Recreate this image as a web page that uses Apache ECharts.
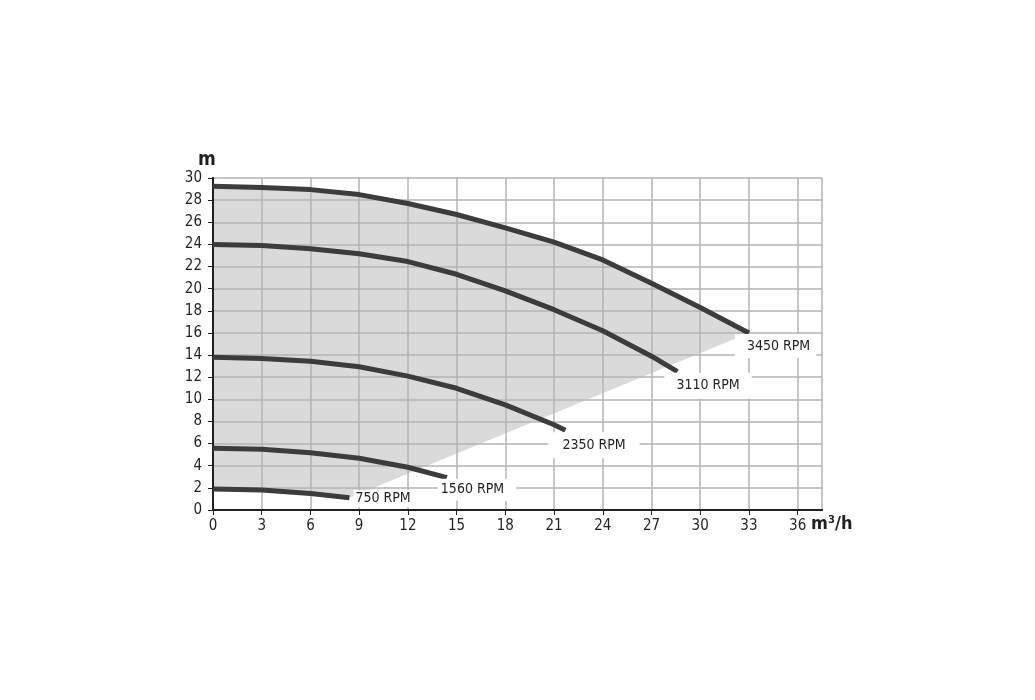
<!DOCTYPE html>
<html>
<head>
<meta charset="utf-8">
<script src="https://cdn.jsdelivr.net/npm/echarts@6/dist/echarts.min.js"></script>
<style>
html,body{margin:0;padding:0;background:#fff;}
#chart{width:1035px;height:700px;}
</style>
</head>
<body>
<div id="chart"></div>
<script>
// ---- data ----
const xTicks = [0,3,6,9,12,15,18,21,24,27,30,33,36];
const yTicks = [0,2,4,6,8,10,12,14,16,18,20,22,24,26,28,30];
const curveNames = ['3450 RPM','3110 RPM','2350 RPM','1560 RPM','750 RPM'];
const q3450 = [0,3,6,9,12,15,18,21,24,27,30,33];
const h3450 = [29.25,29.15,28.95,28.5,27.7,26.7,25.5,24.2,22.6,20.5,18.3,16.0];
const q3110 = [0,3,6,9,12,15,18,21,24,27,28.6];
const h3110 = [24.0,23.9,23.6,23.15,22.45,21.3,19.8,18.1,16.2,13.9,12.5];
const q2350 = [0,3,6,9,12,15,18,21,21.7];
const h2350 = [13.8,13.7,13.45,12.95,12.1,11.0,9.5,7.7,7.2];
const q1560 = [0,3,6,9,12,14.4];
const h1560 = [5.57,5.48,5.18,4.67,3.86,2.92];
const q750 = [0,3,6,8.4];
const h750 = [1.9,1.81,1.5,1.1];

const zip = (a,b) => a.map((v,i)=>[v,b[i]]);
const curves = [zip(q3450,h3450), zip(q3110,h3110), zip(q2350,h2350), zip(q1560,h1560), zip(q750,h750)];

// shaded operating region: top = 3450 curve, bottom = straight edge to 750 end, then 750 curve back
const regionPts = curves[0].concat(curves[4].slice().reverse());

const FONT = "'Liberation Sans Narrow','DejaVu Sans Condensed','Noto Sans',sans-serif";
const labelOffsets = [[-14,13],[-13,14],[-17,15],[-9,12],[4,1]];
const labelPads = [[4,6,6,12],[6,12,6,12],[6,14,6,14],[3,12,5,3],[3,6,0,2]];

const chart = echarts.init(document.getElementById('chart'));
const series = [{
  type:'custom',
  z:-1,
  silent:true,
  data:[[0,0]],
  renderItem:function(params, api){
    return {type:'polygon', shape:{points: regionPts.map(p=>api.coord(p))}, style:{fill:'#dadada'}};
  }
}];
curves.forEach((c,i)=>{
  series.push({
    type:'line',
    name:curveNames[i],
    data:c,
    smooth:false,
    symbol:'none',
    lineStyle:{color:'#3c3c3c', width:5, cap:'butt', join:'round'},
    endLabel:{
      show:true,
      formatter:curveNames[i],
      distance:0,
      offset:labelOffsets[i],
      backgroundColor:'#fff',
      padding:labelPads[i],
      color:'#231f20',
      fontFamily:FONT,
      fontSize:14
    },
    z:3
  });
});

const blackLine = {lineStyle:{color:'#231f20', width:2}};
chart.setOption({
  animation:false,
  backgroundColor:'#fff',
  grid:{left:213, right:213, top:178, bottom:190},
  xAxis:[{
    type:'value', min:0, max:37.5, interval:3, z:5,
    axisLine:blackLine,
    axisTick:{show:true, length:5, lineStyle:{color:'#231f20', width:1}},
    axisLabel:{color:'#231f20', fontFamily:FONT, fontSize:15, margin:9, showMaxLabel:false,
      formatter:v=> xTicks.indexOf(v)>=0 ? String(v) : ''},
    splitLine:{show:false}
  },{
    type:'value', position:'top', min:0, max:37.5, interval:3,
    axisLine:{show:true, lineStyle:{color:'#231f20', width:2}},
    axisTick:{show:false}, axisLabel:{show:false},
    splitLine:{show:true, lineStyle:{color:'#b3b3b3', width:1.5}}
  }],
  yAxis:[{
    type:'value', min:0, max:30, interval:2,
    axisLine:{show:true, lineStyle:{color:'#231f20', width:2}},
    axisTick:{show:true, length:5, lineStyle:{color:'#231f20', width:1}},
    axisLabel:{color:'#231f20', fontFamily:FONT, fontSize:15, margin:11,
      formatter:v=> yTicks.indexOf(v)>=0 ? String(v) : ''},
    splitLine:{show:true, lineStyle:{color:'#b3b3b3', width:1.5}}
  },{
    type:'value', position:'right', min:0, max:30, interval:2,
    axisLine:{show:true, lineStyle:{color:'#231f20', width:2}},
    axisTick:{show:false}, axisLabel:{show:false}, splitLine:{show:false}
  }],
  graphic:[
    {type:'text', left:198, top:151, style:{text:'m', font:"bold 19px "+FONT, fill:'#231f20'}},
    {type:'text', left:811, top:515, style:{text:'m³/h', font:"bold 18px "+FONT, fill:'#231f20'}}
  ],
  series:series
});
</script>
</body>
</html>
